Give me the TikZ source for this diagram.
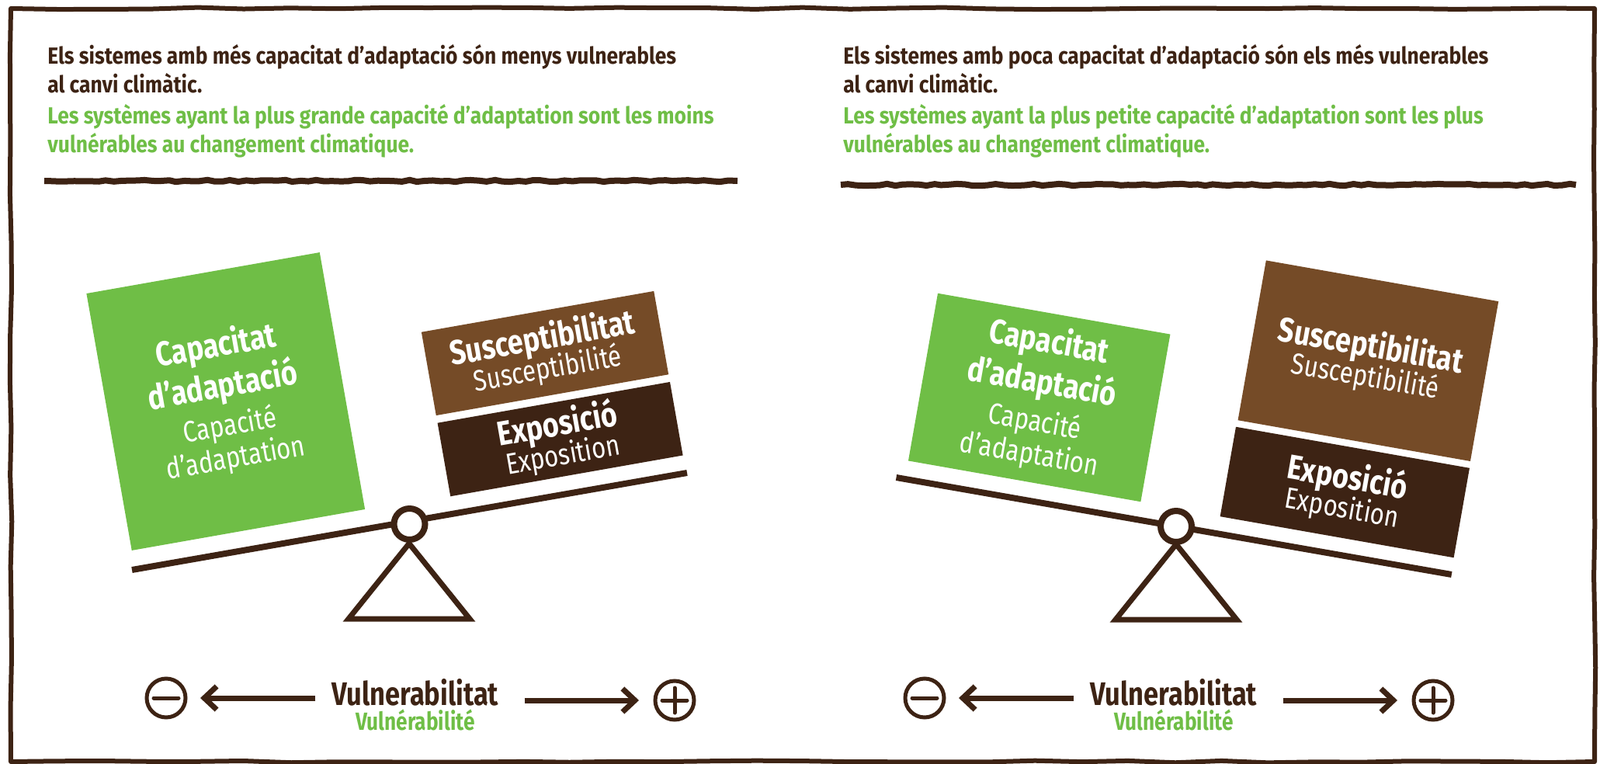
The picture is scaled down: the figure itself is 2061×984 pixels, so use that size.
\documentclass[tikz,border=0pt]{standalone}
\usepackage{fontspec}
\setmainfont{Fira Sans}[FakeStretch=0.82]
\newfontfamily\headfamily{Fira Sans}[FakeStretch=0.88]
\usetikzlibrary{arrows.meta,decorations.pathmorphing}

\definecolor{soil}{HTML}{3D2314}
\definecolor{bark}{HTML}{754B27}
\definecolor{leaf}{HTML}{6FBE46}

\newcommand{\headfont}{\headfamily\bfseries\fontsize{15}{18.5}\selectfont}
\newcommand{\boxbf}{\bfseries\fontsize{22}{21}\selectfont}
\newcommand{\boxrm}{\fontsize{19}{19}\selectfont}
\newcommand{\axisbf}{\bfseries\fontsize{21}{21}\selectfont}
\newcommand{\subbf}{\bfseries\fontsize{16}{16}\selectfont}

\tikzset{
  block/.style={rectangle, inner sep=0pt, text=white, align=center, font=\fontsize{20}{21}\selectfont},
  beam/.style={soil, line width=4pt},
  pivot/.style={circle, draw=soil, fill=white, line width=4pt, minimum size=20pt, inner sep=0pt},
  stand/.style={soil, line width=3.5pt, line join=miter},
  sign/.style={circle, draw=soil, line width=2.5pt, minimum size=25pt, inner sep=0pt},
  axis/.style={soil, line width=3.5pt, -{Straight Barb[length=8pt,width=15pt]}},
  rough/.style={soil, decorate, decoration={random steps, segment length=5pt, amplitude=0.6pt}},
}

\begin{document}
\begin{tikzpicture}[x=0.5pt,y=-0.5pt]

\useasboundingbox (0,0) rectangle (2061,984);

% frame
\draw[rough, line width=3pt, line join=round, decoration={random steps, segment length=30pt, amplitude=0.7pt}] (14,11) rectangle (2054,981);

% headers
\node[anchor=base west, inner sep=0pt, align=left, text=soil, font=\headfont] (headL) at (61,120)
  {Els sistemes amb més capacitat d’adaptació són menys vulnerables\\al canvi climàtic.};
\node[anchor=base west, inner sep=0pt, align=left, text=leaf, font=\headfont] (headfrL) at (61,197)
  {Les systèmes ayant la plus grande capacité d’adaptation sont les moins\\vulnérables au changement climatique.};
\draw[rough, line width=4pt] (57,233) -- (950,233);

\node[anchor=base west, inner sep=0pt, align=left, text=soil, font=\headfont] (headR) at (1086,120)
  {Els sistemes amb poca capacitat d’adaptació són els més vulnerables\\al canvi climàtic.};
\node[anchor=base west, inner sep=0pt, align=left, text=leaf, font=\headfont] (headfrR) at (1086,197)
  {Les systèmes ayant la plus petite capacité d’adaptation sont les plus\\vulnérables au changement climatique.};
\draw[rough, line width=4pt] (1083,238) -- (2030,238);

% left balance
\begin{scope}
  \draw[beam] (170,734) -- (885,609);
  \draw[stand] (527,700) -- (605,797) -- (449,797) -- cycle;
  \node[pivot] (pivL) at (527.5,675) {};

  \node[block, fill=leaf, rotate=10, minimum width=152.5pt, minimum height=168pt] (capL) at (290.75,517)
    {\boxbf Capacitat\\[2pt]\boxbf d’adaptació\\[4pt]\boxrm Capacité\\\boxrm d’adaptation};
  \node[block, fill=bark, rotate=10, minimum width=152pt, minimum height=54.5pt] (susL) at (702,455)
    {\boxbf Susceptibilitat\\[-2pt]\boxrm Susceptibilité};
  \node[block, fill=soil, rotate=10, minimum width=152pt, minimum height=48pt] (expL) at (721.6,565.6)
    {\boxbf Exposició\\[-2pt]\boxrm Exposition};
\end{scope}

% right balance
\begin{scope}
  \draw[beam] (1154.5,615) -- (1869.8,740);
  \draw[stand] (1515,701) -- (1593,798) -- (1437,798) -- cycle;
  \node[pivot] (pivR) at (1515,678) {};

  \node[block, fill=leaf, rotate=-10, minimum width=152pt, minimum height=109.5pt] (capR) at (1338.7,512)
    {\boxbf Capacitat\\[2pt]\boxbf d’adaptació\\[4pt]\boxrm Capacité\\\boxrm d’adaptation};
  \node[block, fill=bark, rotate=-10, minimum width=152pt, minimum height=104.5pt] (susR) at (1762.4,464.7)
    {\boxbf Susceptibilitat\\[-2pt]\boxrm Susceptibilité};
  \node[block, fill=soil, rotate=-10, minimum width=152.8pt, minimum height=58.6pt] (expR) at (1732.3,634)
    {\boxbf Exposició\\[-2pt]\boxrm Exposition};
\end{scope}

% vulnerability axis
\foreach \dx/\tag in {0/L,977/R}{%
  \node[sign] (minus\tag) at (214+\dx,899) {};
  \node[sign] (plus\tag) at (869+\dx,902) {};
  \draw[soil, line width=2.5pt, line cap=round] ([xshift=-8pt]minus\tag.center) -- ([xshift=8pt]minus\tag.center);
  \draw[soil, line width=2.5pt, line cap=round] ([xshift=-8pt]plus\tag.center) -- ([xshift=8pt]plus\tag.center);
  \draw[soil, line width=2.5pt, line cap=round] ([yshift=-8pt]plus\tag.center) -- ([yshift=8pt]plus\tag.center);

  \node[anchor=base, inner sep=0pt, text=soil, font=\axisbf] (vul\tag) at (535+\dx,908) {Vulnerabilitat};
  \node[anchor=base, inner sep=0pt, text=leaf, font=\subbf] (vulfr\tag) at (535+\dx,940) {Vulnérabilité};

  \draw[axis, shorten <=10.5pt, shorten >=8.25pt] (minus\tag -| vul\tag.west) -- (minus\tag.east);
  \draw[axis, shorten <=16.5pt, shorten >=9.25pt] (plus\tag -| vul\tag.east) -- (plus\tag.west);
}

\end{tikzpicture}
\end{document}
